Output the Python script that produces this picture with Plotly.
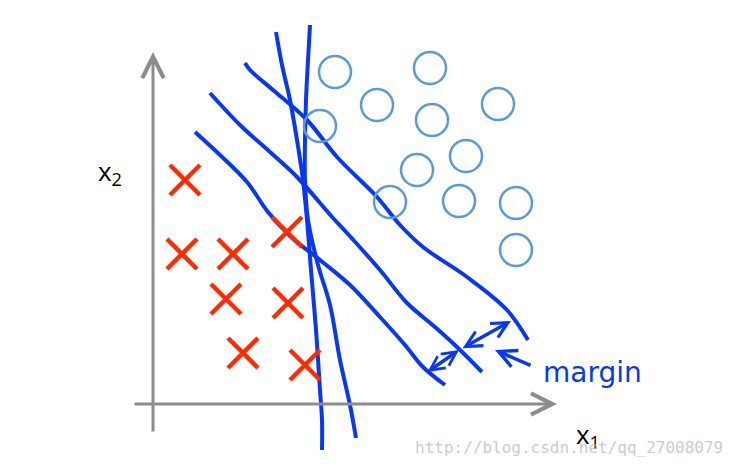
import plotly.graph_objects as go

# Data (in picture units: x to the right, y downward)
cross_x = [185, 182, 233, 287, 226, 288, 243, 305]
cross_y = [180, 254, 254, 232, 299, 303, 353, 365]

circle_x = [335, 430, 377, 498, 320, 432, 466, 417, 390, 459, 516, 516]
circle_y = [72, 68, 105, 104, 126, 120, 156, 170, 202, 201, 203, 250]

line1_x = [276, 282, 290, 297, 303, 307, 311, 316, 320, 322, 322]
line1_y = [32, 65, 100, 140, 180, 220, 270, 330, 390, 420, 450]
line2_x = [310, 308, 306, 305, 305, 308, 318, 330, 340, 350, 356]
line2_y = [25, 60, 100, 140, 180, 220, 265, 305, 360, 405, 438]
line3_x = [195, 220, 247, 268, 290, 320, 350, 380, 405, 423, 445]
line3_y = [132, 155, 182, 212, 236, 260, 285, 317, 345, 367, 385]
line4_x = [210, 240, 270, 297, 333, 347, 380, 407, 435, 457, 482]
line4_y = [93, 125, 152, 177, 218, 233, 270, 303, 327, 347, 372]
line5_x = [245, 250, 273, 307, 337, 377, 400, 423, 467, 507, 528]
line5_y = [63, 70, 90, 120, 157, 197, 225, 247, 277, 310, 340]

fig = go.Figure()

blue = "#0838f5"
for lx, ly in [(line1_x, line1_y), (line2_x, line2_y), (line3_x, line3_y),
               (line4_x, line4_y), (line5_x, line5_y)]:
    fig.add_trace(go.Scatter(x=lx, y=ly, mode="lines",
                             line=dict(color=blue, width=4, shape="spline"),
                             hoverinfo="skip", showlegend=False))

fig.add_trace(go.Scatter(x=cross_x, y=cross_y, mode="markers",
                         marker=dict(symbol="x-thin", size=30,
                                     line=dict(color="#ff2a00", width=4.5)),
                         showlegend=False))
fig.add_trace(go.Scatter(x=circle_x, y=circle_y, mode="markers",
                         marker=dict(symbol="circle-open", size=32,
                                     color="#5b9bd5",
                                     line=dict(color="#5b9bd5", width=2.5)),
                         showlegend=False))

gray = "#8c8c8c"
annotations = [
    # axes
    dict(x=153, y=52, ax=153, ay=433, xref="x", yref="y", axref="x", ayref="y",
         showarrow=True, arrowhead=5, arrowsize=1.4, arrowwidth=3, arrowcolor=gray, text=""),
    dict(x=557, y=404, ax=133, ay=404, xref="x", yref="y", axref="x", ayref="y",
         showarrow=True, arrowhead=5, arrowsize=1.4, arrowwidth=3, arrowcolor=gray, text=""),
    # margin arrows
    dict(x=459, y=350, ax=426, ay=373, xref="x", yref="y", axref="x", ayref="y",
         showarrow=True, arrowhead=5, startarrowhead=5, arrowside="end+start",
         arrowsize=0.8, startarrowsize=0.8, arrowwidth=3.5, arrowcolor=blue, text=""),
    dict(x=511, y=321, ax=461, ay=349, xref="x", yref="y", axref="x", ayref="y",
         showarrow=True, arrowhead=5, startarrowhead=5, arrowside="end+start",
         arrowsize=0.9, startarrowsize=0.9, arrowwidth=3.5, arrowcolor=blue, text=""),
    dict(x=495, y=350, ax=532, ay=366, xref="x", yref="y", axref="x", ayref="y",
         showarrow=True, arrowhead=5, arrowsize=1.0, arrowwidth=3.5, arrowcolor=blue, text=""),
    # texts
    dict(x=592, y=372, xref="x", yref="y", text="margin", showarrow=False,
         font=dict(family="DejaVu Sans", size=28, color=blue)),
    dict(x=110, y=172, xref="x", yref="y", text="x<sub>2</sub>", showarrow=False,
         font=dict(family="Open Sans", size=26, color="black")),
    dict(x=588, y=435, xref="x", yref="y", text="x<sub>1</sub>", showarrow=False,
         font=dict(family="Open Sans", size=26, color="black")),
    dict(x=569, y=447, xref="x", yref="y", text="http://blog.csdn.net/qq_27008079",
         showarrow=False,
         font=dict(family="DejaVu Sans Mono", size=16, color="rgba(185,185,185,0.75)")),
]

fig.update_layout(
    width=736, height=465,
    margin=dict(l=0, r=0, t=0, b=0),
    paper_bgcolor="white", plot_bgcolor="white",
    xaxis=dict(range=[0, 736], visible=False, fixedrange=True),
    yaxis=dict(range=[465, 0], visible=False, fixedrange=True),
    annotations=annotations,
    showlegend=False,
)

fig.write_html("out.html", config={"displayModeBar": False},
               post_script="document.body.style.margin='0';")
